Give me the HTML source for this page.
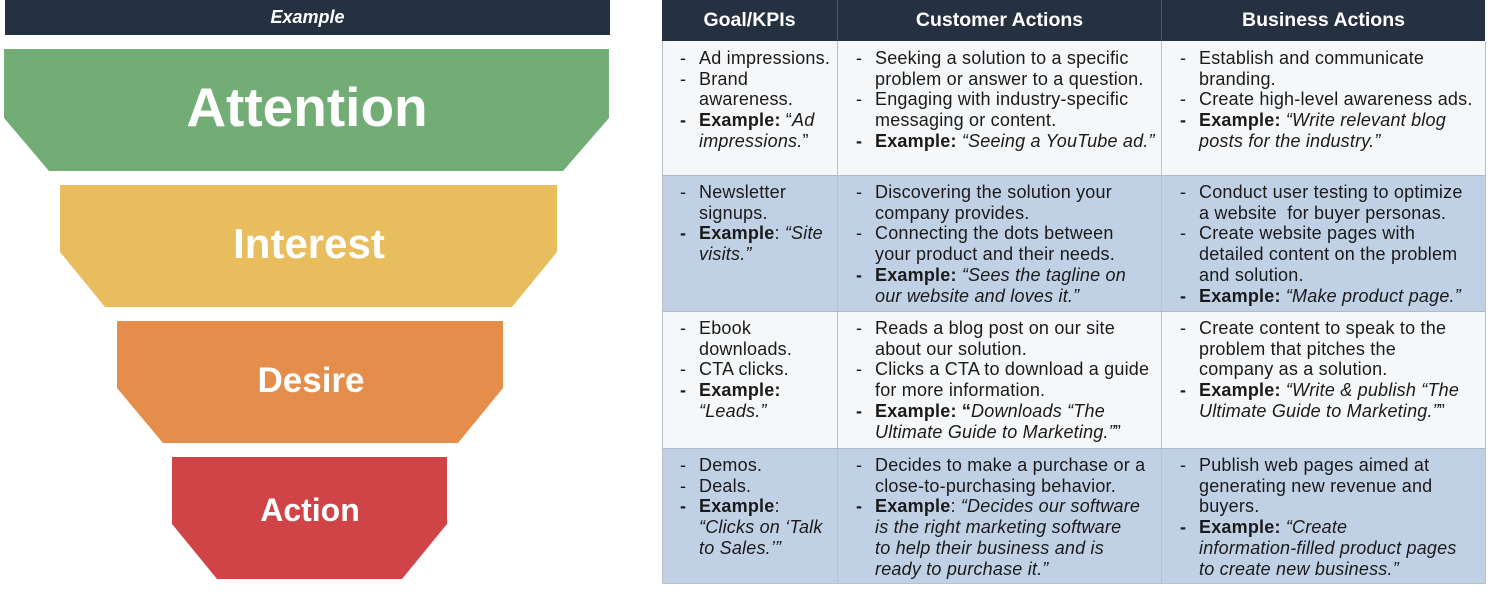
<!DOCTYPE html>
<html><head><meta charset="utf-8"><style>
body{margin:0;width:1506px;height:601px;background:#fff;position:relative;overflow:hidden;font-family:"Liberation Sans",sans-serif}
.a{position:absolute}
.hdr{background:#253040;color:#fff;font-weight:bold;position:absolute;display:flex;align-items:center;justify-content:center;font-size:19.5px}
.cell{position:absolute;font-size:18px;letter-spacing:0.2px;line-height:20.7px;color:#1a1a1a;white-space:nowrap}
.cell div{position:relative;padding-left:19px}
.cell div.d::before{content:"-";position:absolute;left:0}
.cell div.bd::before{content:"-";position:absolute;left:0;font-weight:bold}
</style></head><body>
<div class="hdr" style="left:5px;top:0;width:605px;height:35px;font-style:italic;font-size:18px">Example</div>
<svg class="a" style="left:0;top:0" width="620" height="601">
<polygon points="4,49 609,49 609,118 563,171 49,171 4,118" fill="#72ad76"/>
<polygon points="60,185 557,185 557,252 512,307 105,307 60,252" fill="#e8bd5e"/>
<polygon points="117,321 503,321 503,388 458,443 163,443 117,388" fill="#e58e4b"/>
<polygon points="172,457 447,457 447,524 402,579 217,579 172,524" fill="#d04448"/>
<text x="307" y="126" text-anchor="middle" fill="#fff" font-weight="bold" font-size="55" font-family="Liberation Sans">Attention</text>
<text x="309" y="258" text-anchor="middle" fill="#fff" font-weight="bold" font-size="42" font-family="Liberation Sans">Interest</text>
<text x="311" y="392" text-anchor="middle" fill="#fff" font-weight="bold" font-size="35" font-family="Liberation Sans">Desire</text>
<text x="310" y="521" text-anchor="middle" fill="#fff" font-weight="bold" font-size="32" font-family="Liberation Sans">Action</text>
</svg>
<div class="a" style="left:662px;top:41px;width:823px;height:134px;background:#f5f7f9"></div>
<div class="a" style="left:662px;top:175px;width:823px;height:136px;background:#c1d1e5"></div>
<div class="a" style="left:662px;top:311px;width:823px;height:137px;background:#f5f7f9"></div>
<div class="a" style="left:662px;top:448px;width:823px;height:136px;background:#c1d1e5"></div>
<div class="a" style="left:662px;top:41px;width:822px;height:542px;border:1px solid #b8c0c8;border-top:none"></div>
<div class="a" style="left:662px;top:175px;width:823px;height:1px;background:#b0bac6"></div>
<div class="a" style="left:662px;top:311px;width:823px;height:1px;background:#b0bac6"></div>
<div class="a" style="left:662px;top:448px;width:823px;height:1px;background:#b0bac6"></div>
<div class="a" style="left:837px;top:41px;width:1px;height:543px;background:#b8c0c8"></div>
<div class="a" style="left:1161px;top:41px;width:1px;height:543px;background:#b8c0c8"></div>
<div class="hdr" style="left:662px;top:0;width:175px;height:41px">Goal/KPIs</div>
<div class="hdr" style="left:838px;top:0;width:323px;height:41px">Customer Actions</div>
<div class="hdr" style="left:1162px;top:0;width:323px;height:41px">Business Actions</div>
<div class="a" style="left:837px;top:0;width:1px;height:41px;background:#4a5566"></div>
<div class="a" style="left:1161px;top:0;width:1px;height:41px;background:#4a5566"></div>

<div class="cell" style="left:680px;top:48px">
<div class="d">Ad impressions.</div><div class="d">Brand</div><div>awareness.</div>
<div class="bd"><b>Example:</b> “<i>Ad</i></div><div><i>impressions.</i>”</div></div>
<div class="cell" style="left:856px;top:48px">
<div class="d">Seeking a solution to a specific</div><div>problem or answer to a question.</div>
<div class="d">Engaging with industry-specific</div><div>messaging or content.</div>
<div class="bd"><b>Example:</b> <i>“Seeing a YouTube ad.”</i></div></div>
<div class="cell" style="left:1180px;top:48px">
<div class="d">Establish and communicate</div><div>branding.</div>
<div class="d">Create high-level awareness ads.</div>
<div class="bd"><b>Example:</b> <i>“Write relevant blog</i></div><div><i>posts for the industry.”</i></div></div>

<div class="cell" style="left:680px;top:182px">
<div class="d">Newsletter</div><div>signups.</div>
<div class="bd"><b>Example</b>: <i>“Site</i></div><div><i>visits.”</i></div></div>
<div class="cell" style="left:856px;top:182px">
<div class="d">Discovering the solution your</div><div>company provides.</div>
<div class="d">Connecting the dots between</div><div>your product and their needs.</div>
<div class="bd"><b>Example:</b> <i>“Sees the tagline on</i></div><div><i>our website and loves it.”</i></div></div>
<div class="cell" style="left:1180px;top:182px">
<div class="d">Conduct user testing to optimize</div><div>a website&nbsp; for buyer personas.</div>
<div class="d">Create website pages with</div><div>detailed content on the problem</div><div>and solution.</div>
<div class="bd"><b>Example:</b> <i>“Make product page.”</i></div></div>

<div class="cell" style="left:680px;top:318px">
<div class="d">Ebook</div><div>downloads.</div><div class="d">CTA clicks.</div>
<div class="bd"><b>Example:</b></div><div><i>“Leads.”</i></div></div>
<div class="cell" style="left:856px;top:318px">
<div class="d">Reads a blog post on our site</div><div>about our solution.</div>
<div class="d">Clicks a CTA to download a guide</div><div>for more information.</div>
<div class="bd"><b>Example: “</b><i>Downloads “The</i></div><div><i>Ultimate Guide to Marketing.”</i>”</div></div>
<div class="cell" style="left:1180px;top:318px">
<div class="d">Create content to speak to the</div><div>problem that pitches the</div><div>company as a solution.</div>
<div class="bd"><b>Example:</b> <i>“Write &amp; publish “The</i></div><div><i>Ultimate Guide to Marketing.”</i>”</div></div>

<div class="cell" style="left:680px;top:455px">
<div class="d">Demos.</div><div class="d">Deals.</div>
<div class="bd"><b>Example</b>:</div><div><i>“Clicks on ‘Talk</i></div><div><i>to Sales.’”</i></div></div>
<div class="cell" style="left:856px;top:455px">
<div class="d">Decides to make a purchase or a</div><div>close-to-purchasing behavior.</div>
<div class="bd"><b>Example</b>: <i>“Decides our software</i></div><div><i>is the right marketing software</i></div><div><i>to help their business and is</i></div><div><i>ready to purchase it.”</i></div></div>
<div class="cell" style="left:1180px;top:455px">
<div class="d">Publish web pages aimed at</div><div>generating new revenue and</div><div>buyers.</div>
<div class="bd"><b>Example:</b> <i>“Create</i></div><div><i>information-filled product pages</i></div><div><i>to create new business.”</i></div></div>
</body></html>
